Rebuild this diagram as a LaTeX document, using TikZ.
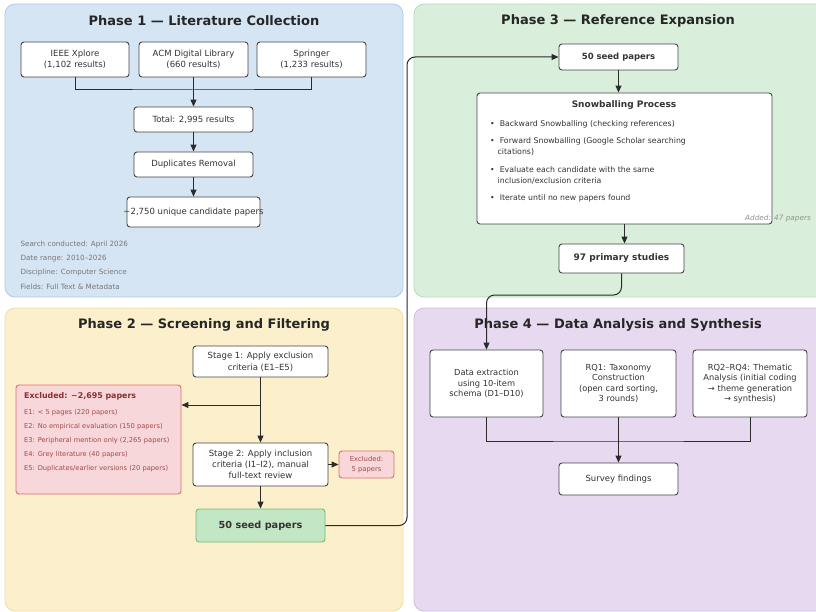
\documentclass[tikz,border=0pt]{standalone}
\usepackage{fontspec}
\setmainfont{DejaVu Sans}
\usepackage{xcolor}
\usetikzlibrary{positioning,arrows.meta,calc}

\definecolor{bluefill}{HTML}{D6E5F4}
\definecolor{blueline}{HTML}{AECBEA}
\definecolor{greenfill}{HTML}{D9EEDB}
\definecolor{greenline}{HTML}{B5DDB9}
\definecolor{yellowfill}{HTML}{FBF0CB}
\definecolor{yellowline}{HTML}{F0DDA2}
\definecolor{purplefill}{HTML}{E7DAF0}
\definecolor{purpleline}{HTML}{D0BCE2}
\definecolor{exclfill}{HTML}{F8D7DA}
\definecolor{exclline}{HTML}{E06C6C}
\definecolor{excltext}{HTML}{8B2E2E}
\definecolor{excllist}{HTML}{A24A4A}
\definecolor{seedfill}{HTML}{C3E6C4}
\definecolor{seedline}{HTML}{6CC070}
\definecolor{boxline}{HTML}{444444}
\definecolor{textgray}{HTML}{333333}
\definecolor{notegray}{HTML}{777777}
\definecolor{linkgray}{HTML}{2B2B2B}

\begin{document}
\begin{tikzpicture}[x=1pt, y=-1pt,
    phase/.style={rounded corners=10pt, line width=0.8pt},
    title/.style={font=\bfseries\fontsize{13}{15}\selectfont, text=textgray!75!black},
    box/.style={draw=boxline, fill=white, rounded corners=3pt, line width=0.9pt,
        align=center, font=\fontsize{8.5}{11}\selectfont, text=textgray, inner sep=2pt},
    link/.style={draw=linkgray, line width=1pt},
    arr/.style={link, -{Triangle[length=7pt,width=6pt]}},
    note/.style={font=\fontsize{7.2}{8}\selectfont, text=notegray, anchor=west},
    bulletline/.style={font=\fontsize{7.8}{9}\selectfont, text=textgray, anchor=west, inner sep=0pt},
    excline/.style={font=\fontsize{6.7}{8}\selectfont, text=excllist, anchor=west, inner sep=0pt}]

    % Page frame
    \clip (0,0) rectangle (816,612);
    \fill[white] (0,0) rectangle (816,612);

    % Phase panels
    \draw[phase, fill=bluefill, draw=blueline] (5,4) rectangle (403,297);
    \draw[phase, fill=greenfill, draw=greenline] (414,4) rectangle (830,297);
    \draw[phase, fill=yellowfill, draw=yellowline] (5,308) rectangle (403,611);
    \draw[phase, fill=purplefill, draw=purpleline] (414,308) rectangle (830,611);

    % Phase 1
    \node[title] (titleone) at (204,21) {Phase 1 — Literature Collection};
    \node[box, minimum width=108, minimum height=35] (ieee) at (75,59.5) {IEEE Xplore\\(1,102 results)};
    \node[box, minimum width=109, minimum height=35] (acm) at (193.5,59.5) {ACM Digital Library\\(660 results)};
    \node[box, minimum width=109, minimum height=35] (springer) at (311.5,59.5) {Springer\\(1,233 results)};
    \node[box, minimum width=119, minimum height=25] (total) at (193.5,119.5) {Total: 2,995 results};
    \node[box, minimum width=119, minimum height=25] (dup) at (193.5,164.5) {Duplicates Removal};
    \node[box, minimum width=133, minimum height=30] (unique) at (193.5,212) {\makebox[0pt][c]{\textasciitilde 2,750 unique candidate papers}};
    \coordinate (joinone) at (193.5,90);
    \draw[link] (ieee.south) |- (joinone) -| (springer.south);
    \draw[arr] (acm.south) -- (total.north);
    \draw[arr] (total.south) -- (dup.north);
    \draw[arr] (dup.south) -- (unique.north);
    \node[note] (search) at (17,245) {Search conducted: April 2026};
    \node[note] (range) at (17,258.5) {Date range: 2010–2026};
    \node[note] (disc) at (17,272.5) {Discipline: Computer Science};
    \node[note] (fields) at (17,286.5) {Fields: Full Text \& Metadata};

    % Phase 3
    \node[title] (titlethree) at (618,21) {Phase 3 — Reference Expansion};
    \node[box, minimum width=119, minimum height=26, font=\bfseries\fontsize{8.5}{10}\selectfont] (seedtop) at (618.5,57) {50 seed papers};
    \node[box, minimum width=295, minimum height=131] (snow) at (624.5,158.5) {};
    \node[font=\bfseries\fontsize{9}{10}\selectfont, text=textgray] (snowtitle) at (624,105) {Snowballing Process};
    \node[bulletline] (bone) at (490,124.5) {•\ \ Backward Snowballing (checking references)};
    \node[bulletline] (btwo) at (490,141.5) {•\ \ Forward Snowballing (Google Scholar searching};
    \node[bulletline] (btwob) at (497.5,152.5) {citations)};
    \node[bulletline] (bthree) at (490,169.5) {•\ \ Evaluate each candidate with the same};
    \node[bulletline] (bthreeb) at (497.5,181) {inclusion/exclusion criteria};
    \node[bulletline] (bfour) at (490,198) {•\ \ Iterate until no new papers found};
    \node[font=\itshape\fontsize{7.3}{8}\selectfont, text=notegray!80, anchor=east, inner sep=0pt] (added) at (811,218) {Added: 47 papers};
    \node[box, minimum width=125, minimum height=29, font=\bfseries\fontsize{9}{10}\selectfont] (primary) at (621.5,258.5) {97 primary studies};
    \draw[arr] (seedtop.south) -- (seedtop.south |- snow.north);
    \draw[arr] (snow.south) -- (snow.south |- primary.north);

    % Phase 2
    \node[title] (titletwo) at (204,325) {Phase 2 — Screening and Filtering};
    \node[box, minimum width=135, minimum height=31, font=\fontsize{8.5}{12}\selectfont] (stageone) at (260.5,361.5) {Stage 1: Apply exclusion\\criteria (E1–E5)};
    \node[box, minimum width=135, minimum height=43, font=\fontsize{8.5}{11}\selectfont] (stagetwo) at (260.5,464.5) {Stage 2: Apply inclusion\\criteria (I1–I2), manual\\full-text review};
    \node[draw=exclline, fill=exclfill, rounded corners=3pt, line width=0.9pt, minimum width=165, minimum height=109] (excl) at (98.5,439.5) {};
    \node[font=\bfseries\fontsize{7.9}{9}\selectfont, text=excltext, anchor=west, inner sep=0pt] (excltitle) at (24,396) {Excluded: \textasciitilde 2,695 papers};
    \node[excline] (eone) at (24,413) {E1: < 5 pages (220 papers)};
    \node[excline] (etwo) at (24,427) {E2: No empirical evaluation (150 papers)};
    \node[excline] (ethree) at (24,441) {E3: Peripheral mention only (2,265 papers)};
    \node[excline] (efour) at (24,455) {E4: Grey literature (40 papers)};
    \node[excline] (efive) at (24,469) {E5: Duplicates/earlier versions (20 papers)};
    \node[draw=exclline, fill=exclfill, rounded corners=3pt, line width=0.9pt, minimum width=55, minimum height=27,
        align=center, text=excllist, font=\fontsize{6.8}{10}\selectfont, inner sep=1pt] (exclfive) at (366.5,464.5) {Excluded:\\5 papers};
    \node[draw=seedline, fill=seedfill, rounded corners=3pt, line width=0.9pt, minimum width=129, minimum height=33,
        font=\bfseries\fontsize{9.7}{11}\selectfont, text=textgray] (seedbottom) at (260.5,525.5) {50 seed papers};
    \coordinate (split) at (260.5,405);
    \draw[arr] (stageone.south) -- (stagetwo.north);
    \draw[arr] (split) -- (split -| excl.east);
    \draw[arr] (stagetwo.east) -- (exclfive.west);
    \draw[arr] (stagetwo.south) -- (seedbottom.north);

    % Phase 4
    \node[title] (titlefour) at (618,325) {Phase 4 — Data Analysis and Synthesis};
    \node[box, minimum width=113, minimum height=67, font=\fontsize{8.3}{10.5}\selectfont] (extract) at (486.5,383.5) {Data extraction\\using 10-item\\schema (D1–D10)};
    \node[box, minimum width=115, minimum height=67, font=\fontsize{8.3}{10.5}\selectfont] (rqone) at (618.5,383.5) {RQ1: Taxonomy\\Construction\\(open card sorting,\\3 rounds)};
    \node[box, minimum width=114, minimum height=67, font=\fontsize{8.3}{10.5}\selectfont] (rqrest) at (750,383.5) {RQ2–RQ4: Thematic\\Analysis (initial coding\\→ theme generation\\→ synthesis)};
    \node[box, minimum width=119, minimum height=32] (survey) at (618.5,479) {Survey findings};
    \coordinate (joinfour) at (618.5,441);
    \draw[link] (extract.south) |- (joinfour) -| (rqrest.south);
    \draw[arr] (rqone.south) -- (survey.north);

    % Links between phases
    \coordinate (riseup) at (407,300);
    \draw[arr, rounded corners=8pt] (seedbottom.east) -- (seedbottom.east -| riseup) -- (riseup |- seedtop.west) -- (seedtop.west);
    \coordinate (dropdown) at (486.5,295);
    \draw[arr, rounded corners=8pt] (primary.south) |- (dropdown) -- (extract.north);
\end{tikzpicture}
\end{document}
